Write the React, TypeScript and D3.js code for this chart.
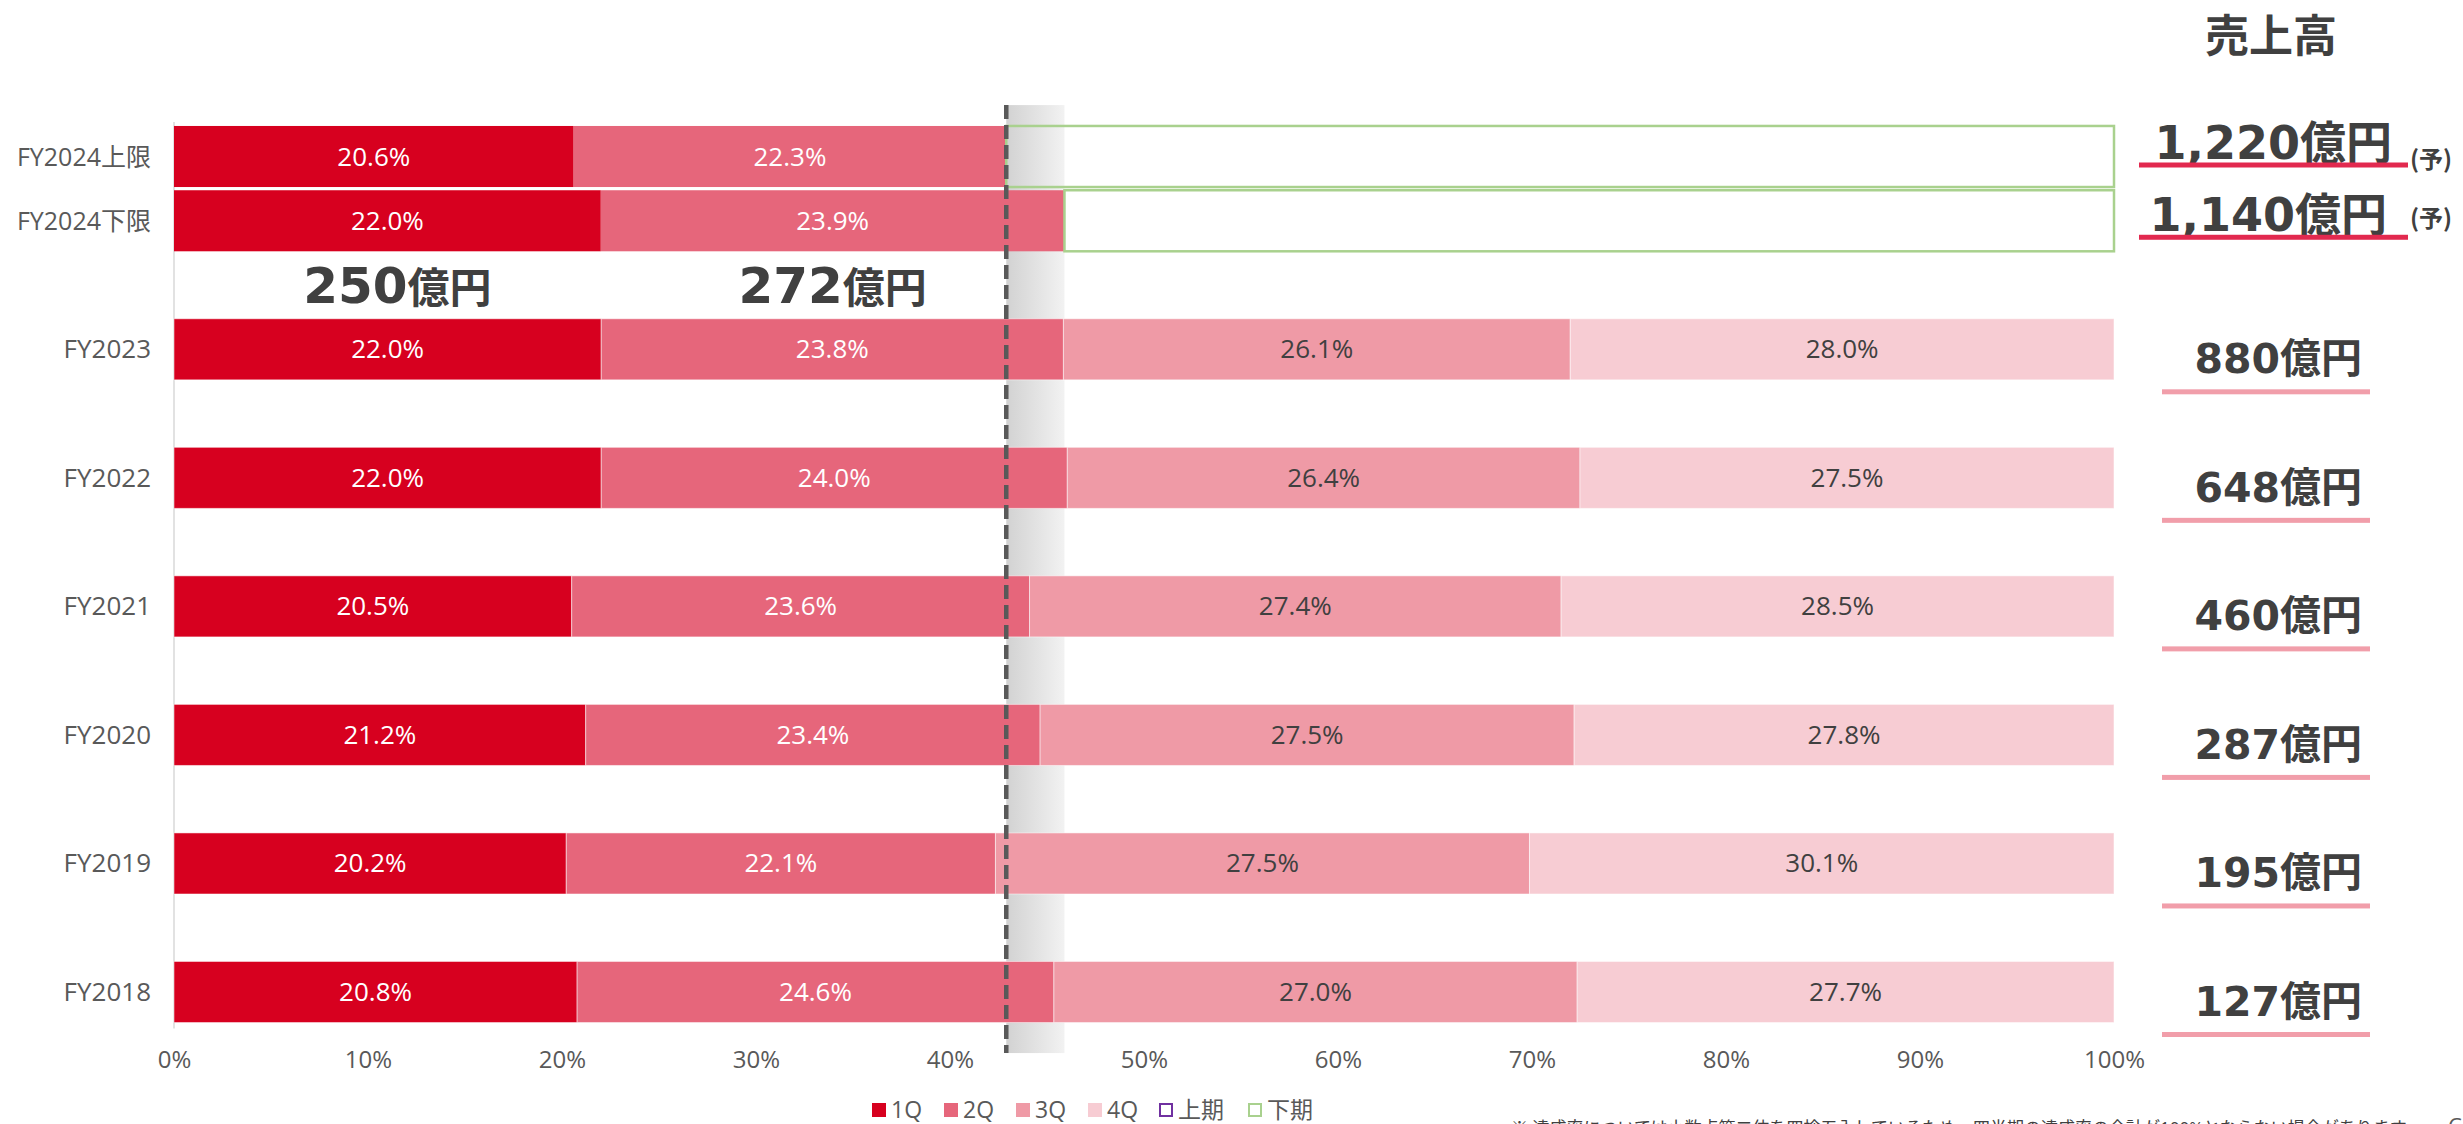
import React, { useEffect, useRef } from "react";
import * as d3 from "d3";

const width = 2463;
const height = 1124;

const years = ["FY2018", "FY2019", "FY2020", "FY2021", "FY2022", "FY2023"];
const q1 = [20.8, 20.2, 21.2, 20.5, 22.0, 22.0];
const q2 = [24.6, 22.1, 23.4, 23.6, 24.0, 23.8];
const q3 = [27.0, 27.5, 27.5, 27.4, 26.4, 26.1];
const q4 = [27.7, 30.1, 27.8, 28.5, 27.5, 28.0];
const sales = ["127", "195", "287", "460", "648", "880"];

const forecastLabels = ["FY2024下限", "FY2024上限"];
const forecastQ1 = [22.0, 20.6];
const forecastQ2 = [23.9, 22.3];
const forecastSales = ["1,140", "1,220"];
const h1Amounts = ["250", "272"];

const legendLabels = ["1Q", "2Q", "3Q", "4Q", "上期", "下期"];
const note =
  "※ 達成率については小数点第二位を四捨五入しているため、四半期の達成率の合計が100%とならない場合があります";

const keys = ["q1", "q2", "q3", "q4"];
const colors = ["#D7001F", "#E6667B", "#EF9AA6", "#F7CCD3"];
const labelColors = ["#fff", "#fff", "#404040", "#404040"];
const purple = "#7030A0";
const green = "#A9D18E";

const font = "'Open Sans', 'Noto Sans CJK JP', sans-serif";
const boldFont = "'DejaVu Sans', 'Noto Sans CJK JP', sans-serif";

const x = d3.scaleLinear().domain([0, 1]).range([174, 2114]);
// rows: history at 0..5, FY2024 lower at 6, upper at 6.5
const y = d3.scaleLinear().domain([0, 6.5]).range([992, 156.5]);
const step = y(0) - y(1);
const barH = step * 0.475;

const rows = years.map((year, i) => ({
  year,
  q1: q1[i],
  q2: q2[i],
  q3: q3[i],
  q4: q4[i],
}));
const stacked = d3.stack().keys(keys).offset(d3.stackOffsetExpand)(rows as any);

const forecastRows = forecastLabels.map((label, j) => ({
  label,
  pos: 6 + j * 0.5,
  q1: forecastQ1[j],
  q2: forecastQ2[j],
}));

const pct = (v: number) => `${v.toFixed(1)}%`;

const App = () => {
  const axisRef = useRef<SVGGElement>(null);

  useEffect(() => {
    const xAxis = d3
      .axisBottom(x)
      .tickValues(d3.range(0, 1.01, 0.1))
      .tickFormat(d3.format(".0%") as any)
      .tickSize(0)
      .tickPadding(0);
    d3.select(axisRef.current)
      .call(xAxis as any)
      .call((g) => g.select(".domain").remove())
      .call((g) =>
        g
          .selectAll("text")
          .attr("dy", 0)
          .attr("y", 0)
          .style("font-family", font)
          .style("font-size", "24px")
          .style("fill", "#595959"),
      );
  }, []);

  const upperH1 = (forecastQ1[1] + forecastQ2[1]) / 100;
  const lowerH1 = (forecastQ1[0] + forecastQ2[0]) / 100;
  const bandTop = y(6.5) - step * 0.4;
  const bandBottom = y(0) + step * 0.475;
  const lower = forecastRows[0];

  return (
    <div style={{ position: "absolute", left: 0, top: 0 }}>
      <svg width={width} height={height} style={{ display: "block", background: "#fff" }}>
        <defs>
          <linearGradient id="band" x1="0" x2="1" y1="0" y2="0">
            <stop offset="0%" stopColor="#d2d2d2" />
            <stop offset="100%" stopColor="#f2f2f2" />
          </linearGradient>
        </defs>

        {/* gray band between upper and lower H1 */}
        <rect
          x={x(upperH1)}
          y={bandTop}
          width={x(lowerH1) - x(upperH1)}
          height={bandBottom - bandTop}
          fill="url(#band)"
        />

        {/* category axis line */}
        <line x1={x(0)} x2={x(0)} y1={y(6.5) - barH / 2 - 4} y2={y(0) + barH / 2 + 6} stroke="#D9D9D9" strokeWidth={1.5} />

        {/* history bars */}
        {stacked.map((layer, k) =>
          layer.map((d, i) => (
            <g key={`${k}-${i}`}>
              <rect
                x={x(d[0])}
                y={y(i) - barH / 2}
                width={x(d[1]) - x(d[0])}
                height={barH}
                fill={colors[k]}
                stroke="#fff"
                strokeOpacity={0.5}
                strokeWidth={1}
              />
              <text
                x={(x(d[0]) + x(d[1])) / 2}
                y={y(i) + 9}
                textAnchor="middle"
                fontFamily={font}
                fontSize={26}
                fill={labelColors[k]}
              >
                {pct((rows[i] as any)[keys[k]])}
              </text>
            </g>
          )),
        )}

        {/* forecast bars */}
        {forecastRows.map((r) => {
          const a = r.q1 / 100;
          const b = (r.q1 + r.q2) / 100;
          const cy = y(r.pos);
          return (
            <g key={r.label}>
              <rect x={x(0)} y={cy - barH / 2} width={x(a) - x(0)} height={barH} fill={colors[0]} />
              <rect x={x(a)} y={cy - barH / 2} width={x(b) - x(a)} height={barH} fill={colors[1]} />
              <rect
                x={x(b)}
                y={cy - barH / 2}
                width={x(1) - x(b)}
                height={barH}
                fill="none"
                stroke={green}
                strokeWidth={2.5}
              />
              <text x={(x(0) + x(a)) / 2} y={cy + 9} textAnchor="middle" fontFamily={font} fontSize={26} fill="#fff">
                {pct(r.q1)}
              </text>
              <text x={(x(a) + x(b)) / 2} y={cy + 9} textAnchor="middle" fontFamily={font} fontSize={26} fill="#fff">
                {pct(r.q2)}
              </text>
            </g>
          );
        })}

        {/* H1 amounts for lower forecast */}
        {h1Amounts.map((v, k) => {
          const from = k === 0 ? 0 : lower.q1 / 100;
          const to = k === 0 ? lower.q1 / 100 : (lower.q1 + lower.q2) / 100;
          return (
            <text
              key={v}
              x={(x(from) + x(to)) / 2 + (k === 0 ? 10 : 0)}
              y={y(5.5) + 18}
              textAnchor="middle"
              fontFamily={boldFont}
              fontWeight={700}
              fill="#404040"
            >
              <tspan fontSize={50}>{v}</tspan>
              <tspan fontSize={42} fontFamily="'Noto Sans CJK JP', sans-serif">
                億円
              </tspan>
            </text>
          );
        })}

        {/* dashed line at upper H1 */}
        <line
          x1={x(upperH1)}
          x2={x(upperH1)}
          y1={bandTop}
          y2={bandBottom}
          stroke="#595959"
          strokeWidth={4.5}
          strokeDasharray="14,6"
        />

        {/* category labels */}
        {years.map((yr, i) => (
          <text key={yr} x={151} y={y(i) + 9} textAnchor="end" fontFamily={font} fontSize={26} fill="#595959">
            {yr}
          </text>
        ))}
        {forecastRows.map((r) => (
          <text key={r.label} x={151} y={y(r.pos) + 9} textAnchor="end" fontFamily={font} fontSize={25} fill="#595959">
            {r.label}
          </text>
        ))}

        {/* x axis */}
        <g ref={axisRef} transform={`translate(0, ${y(0) + 76})`} />

        {/* sales column */}
        <text
          x={2271}
          y={52}
          textAnchor="middle"
          fontFamily="'Noto Sans CJK JP', sans-serif"
          fontWeight={700}
          fontSize={44}
          fill="#404040"
        >
          売上高
        </text>
        {sales.map((s, i) => (
          <g key={s}>
            <text
              x={2362}
              y={y(i) + 24}
              textAnchor="end"
              fontFamily={boldFont}
              fontWeight={700}
              fontSize={41}
              fill="#404040"
            >
              {s}億円
            </text>
            <rect x={2162} y={y(i) + 40} width={208} height={5} fill="#F19EAA" />
          </g>
        ))}
        {forecastRows.map((r, j) => {
          const cy = y(r.pos);
          const base = j === 1 ? cy + 2 : cy + 10;
          return (
            <g key={`s-${r.label}`}>
              <text
                x={j === 1 ? 2392 : 2387}
                y={base}
                textAnchor="end"
                fontFamily={boldFont}
                fontWeight={700}
                fontSize={46}
                fill="#404040"
              >
                {forecastSales[j]}億円
              </text>
              <rect x={2139} y={base + 4} width={269} height={5} fill="#E2294F" />
              <text
                x={2410}
                y={j === 1 ? base + 9 : base - 4}
                fontFamily="'Noto Sans CJK JP', sans-serif"
                fontWeight={700}
                fontSize={24}
                fill="#404040"
              >
                (予)
              </text>
            </g>
          );
        })}

        {/* legend */}
        {legendLabels.map((l, k) => {
          const lx = k < 4 ? 872 + k * 72 : k === 4 ? 1159 : 1248;
          const ly = 1110;
          return (
            <g key={l}>
              {k < 4 ? (
                <rect x={lx} y={ly - 7} width={14} height={14} fill={colors[k]} />
              ) : (
                <rect
                  x={lx + 1}
                  y={ly - 6}
                  width={12}
                  height={12}
                  fill="#fff"
                  stroke={k === 4 ? purple : green}
                  strokeWidth={2}
                />
              )}
              <text x={lx + 19} y={ly + 8} fontFamily={font} fontSize={23} fill="#595959">
                {l}
              </text>
            </g>
          );
        })}

        {/* footnote */}
        <text x={1511} y={1134} fontFamily={font} fontSize={17} fill="#404040">
          {note}
        </text>
        <text x={2448} y={1134} fontFamily={font} fontSize={22} fill="#595959">
          C
        </text>
      </svg>
    </div>
  );
};

export default App;
